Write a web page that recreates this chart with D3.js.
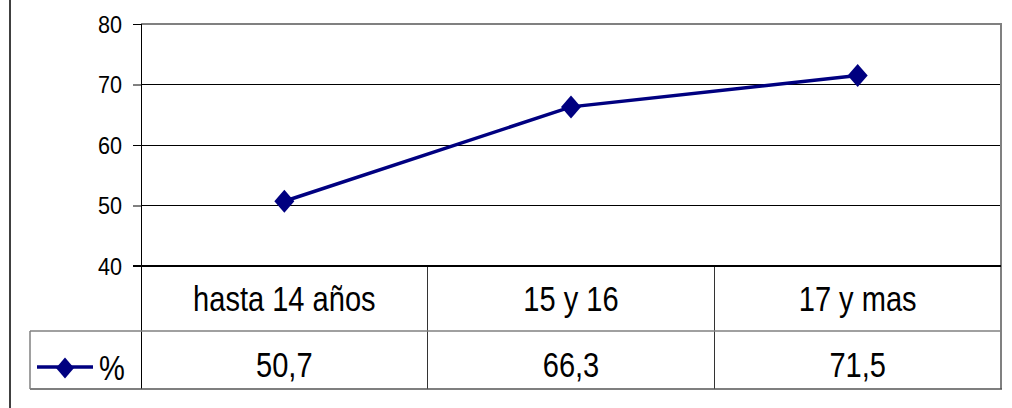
<!DOCTYPE html>
<html>
<head>
<meta charset="utf-8">
<script src="https://cdn.jsdelivr.net/npm/d3@7"></script>
<style>
  html, body { margin: 0; padding: 0; background: #fff; }
  svg { display: block; }
</style>
</head>
<body>
<svg id="chart" width="1012" height="408"></svg>
<script>
const categories = ["hasta 14 años", "15 y 16", "17 y mas"];
const values = [50.7, 66.3, 71.5];
const valueLabels = ["50,7", "66,3", "71,5"];
const yTicks = [40, 50, 60, 70, 80];
const seriesName = "%";

(function () {
const svg = d3.select("#chart");
const pLeft = 141, pRight = 1001, pTop = 24, axisY = 266, row1 = 331, row2 = 389;

const x = d3.scaleBand().domain(categories).range([pLeft, pRight]).padding(0);
const y = d3.scaleLinear().domain([40, 80]).range([axisY, pTop]);

const font = "'Liberation Sans', Arial, sans-serif";
const navy = "#000080";
const gray = "#808080";
const tableSize = 35, tableSX = 0.83;
const axisSize = 24, axisSX = 0.9;

// outer left border
svg.append("line").attr("x1", 10).attr("x2", 10).attr("y1", 0).attr("y2", 408)
  .attr("stroke", "#404040").attr("stroke-width", 2);

// gridlines
svg.append("g").selectAll("line").data(yTicks.filter(d => d > 40 && d < 80)).join("line")
  .attr("x1", pLeft).attr("x2", pRight).attr("y1", d => y(d)).attr("y2", d => y(d))
  .attr("stroke", "#000").attr("stroke-width", 1).attr("shape-rendering", "crispEdges");

// plot top border and right border
svg.append("line").attr("x1", pLeft).attr("x2", pRight + 1).attr("y1", y(80)).attr("y2", y(80))
  .attr("stroke", gray).attr("stroke-width", 2);
svg.append("line").attr("x1", pRight).attr("x2", pRight).attr("y1", y(80)).attr("y2", row2)
  .attr("stroke", gray).attr("stroke-width", 2);

// y axis (ticks)
const yAxis = d3.axisLeft(y).tickValues(yTicks).tickSize(8).tickFormat("");
const ga = svg.append("g").attr("transform", `translate(${pLeft},0)`).call(yAxis);
ga.select(".domain").remove();
ga.selectAll(".tick line").attr("stroke", "#000");
ga.selectAll(".tick text").remove();

// y tick labels
svg.append("g").selectAll("text").data(yTicks).join("text")
  .attr("transform", d => `translate(122,${y(d) + 8.5}) scale(${axisSX},1)`)
  .attr("text-anchor", "end").attr("font-family", font).attr("font-size", axisSize)
  .attr("fill", "#000").text(d3.format("d"));

// left axis line through table
svg.append("line").attr("x1", pLeft).attr("x2", pLeft).attr("y1", pTop).attr("y2", row2)
  .attr("stroke", "#000").attr("stroke-width", 1).attr("shape-rendering", "crispEdges");

// table lines
svg.append("g").selectAll("line").data(categories.slice(1)).join("line")
  .attr("x1", d => x(d)).attr("x2", d => x(d)).attr("y1", axisY).attr("y2", row2)
  .attr("stroke", "#333").attr("stroke-width", 1).attr("shape-rendering", "crispEdges");
svg.append("line").attr("x1", 30).attr("x2", pRight).attr("y1", row1).attr("y2", row1)
  .attr("stroke", gray).attr("stroke-width", 1.5);
svg.append("line").attr("x1", 30).attr("x2", pRight + 1).attr("y1", row2).attr("y2", row2)
  .attr("stroke", "#555").attr("stroke-width", 1.5);
svg.append("line").attr("x1", 30).attr("x2", 30).attr("y1", row1).attr("y2", row2)
  .attr("stroke", gray).attr("stroke-width", 1.5);

// x axis line
svg.append("line").attr("x1", pLeft - 8).attr("x2", pRight).attr("y1", axisY).attr("y2", axisY)
  .attr("stroke", "#000").attr("stroke-width", 2);

// category row text
svg.append("g").selectAll("text").data(categories).join("text")
  .attr("transform", d => `translate(${x(d) + x.bandwidth() / 2},311) scale(${tableSX},1)`)
  .attr("text-anchor", "middle").attr("font-family", font).attr("font-size", tableSize)
  .attr("fill", "#000").text(d => d);

// value row text
svg.append("g").selectAll("text").data(categories).join("text")
  .attr("transform", d => `translate(${x(d) + x.bandwidth() / 2},377) scale(${tableSX},1)`)
  .attr("text-anchor", "middle").attr("font-family", font).attr("font-size", tableSize)
  .attr("fill", "#000").text((d, i) => valueLabels[i]);

// series line
const pts = categories.map((c, i) => [x(c) + x.bandwidth() / 2, y(values[i])]);
svg.append("path").datum(pts).attr("d", d3.line())
  .attr("fill", "none").attr("stroke", navy).attr("stroke-width", 3.5);

const diamond = (w, h) => `M0,${-h}L${w},0L0,${h}L${-w},0Z`;
svg.append("g").selectAll("path").data(pts).join("path")
  .attr("transform", d => `translate(${d[0]},${d[1]})`)
  .attr("d", diamond(10, 11.5)).attr("fill", navy);

// legend
svg.append("line").attr("x1", 37).attr("x2", 93).attr("y1", 367).attr("y2", 367)
  .attr("stroke", navy).attr("stroke-width", 3.5);
svg.append("path").attr("transform", "translate(65,368)").attr("d", diamond(9, 10.5)).attr("fill", navy);
svg.append("text").attr("transform", `translate(99,380) scale(${tableSX},1)`)
  .attr("font-family", font).attr("font-size", tableSize)
  .attr("fill", "#000").text(seriesName);
})();
</script>
</body>
</html>
